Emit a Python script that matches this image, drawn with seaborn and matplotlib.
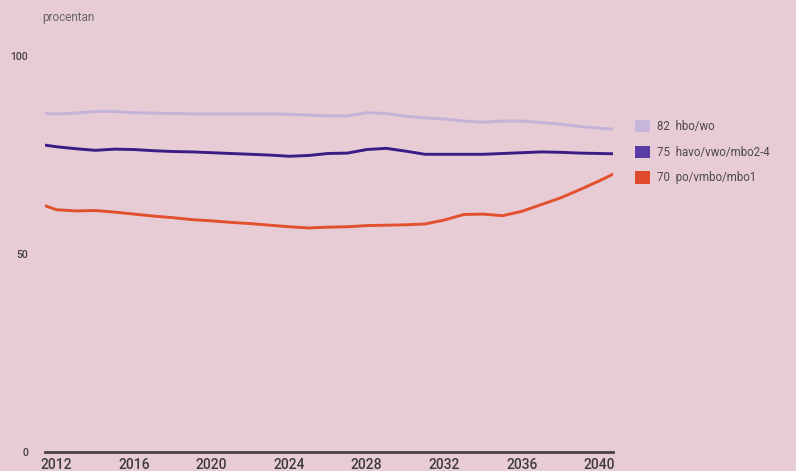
import numpy as np
import pandas as pd
import matplotlib
matplotlib.use("Agg")
import matplotlib.pyplot as plt
from matplotlib.patches import Patch
import seaborn as sns

years = list(range(2011, 2042))
hbo_wo = [85.5, 85.4, 85.6, 86.0, 86.0, 85.7, 85.6, 85.5, 85.4, 85.4, 85.4, 85.4,
          85.4, 85.3, 85.1, 84.9, 84.9, 85.7, 85.5, 84.8, 84.4, 84.1, 83.6, 83.3,
          83.6, 83.6, 83.2, 82.8, 82.2, 81.8, 81.4]
havo_vwo = [77.8, 77.1, 76.6, 76.2, 76.5, 76.4, 76.1, 75.9, 75.8, 75.6, 75.4, 75.2,
            75.0, 74.7, 74.9, 75.4, 75.5, 76.4, 76.7, 76.0, 75.2, 75.2, 75.2, 75.2,
            75.4, 75.6, 75.8, 75.7, 75.5, 75.4, 75.3]
po_vmbo = [62.9, 61.2, 60.9, 61.0, 60.6, 60.1, 59.6, 59.2, 58.7, 58.4, 58.0, 57.7,
           57.3, 56.9, 56.6, 56.8, 56.9, 57.2, 57.3, 57.4, 57.6, 58.6, 60.0, 60.1,
           59.7, 60.8, 62.5, 64.2, 66.3, 68.5, 70.9]
series_names = ["hbo/wo", "havo/vwo/mbo2-4", "po/vmbo/mbo1"]
legend_values = ["82", "75", "70"]
line_colors = ["#c4b3d8", "#3b1c85", "#e2502e"]
patch_colors = ["#c6b6da", "#5b3ba6", "#e04a2c"]
y_ticks = [0, 50, 100]
x_ticks = [2012, 2016, 2020, 2024, 2028, 2032, 2036, 2040]
y_label = "procentan"

df = pd.DataFrame({
    "jaar": years * 3,
    "waarde": hbo_wo + havo_vwo + po_vmbo,
    "groep": [series_names[0]] * len(years) + [series_names[1]] * len(years)
             + [series_names[2]] * len(years),
})

bg = "#e7ccd6"
sns.set_theme(style="white")
plt.rcParams["font.family"] = ["Roboto", "DejaVu Sans"]

fig = plt.figure(figsize=(7.96, 4.71), dpi=100, facecolor=bg)
ax = fig.add_axes([0.0565, 0.040, 0.7136, 0.841])
ax.set_facecolor(bg)

sns.lineplot(data=df, x="jaar", y="waarde", hue="groep", hue_order=series_names,
             palette=line_colors, linewidth=2.1, legend=False, ax=ax)

ax.set_xlim(2011.4, 2040.7)
ax.set_ylim(0, 100)
ax.set_xlabel("")
ax.set_ylabel("")
for s in ["top", "right", "left"]:
    ax.spines[s].set_visible(False)
ax.spines["bottom"].set_color("#4a4048")
ax.spines["bottom"].set_linewidth(2.0)

ax.set_yticks(y_ticks)
ax.set_yticklabels([str(v) for v in y_ticks], fontsize=7.5, color="#444044",
                   fontweight="medium")
ax.tick_params(axis="y", length=0, pad=12)
ax.set_xticks(x_ticks)
ax.set_xticklabels([str(v) for v in x_ticks], fontsize=10, color="#3e3a3e",
                   fontweight="medium")
ax.tick_params(axis="x", length=0, pad=4)

fig.text(0.053, 0.962, y_label, fontsize=8.5, color="#6a6468", ha="left", va="center")

handles = [Patch(facecolor=c, edgecolor="none") for c in patch_colors]
labels = [f"{v}  {n}" for v, n in zip(legend_values, series_names)]
leg = fig.legend(handles, labels, loc="upper left", bbox_to_anchor=(0.785, 0.768),
                 frameon=False, fontsize=8.3, handlelength=1.25, handleheight=1.25,
                 handletextpad=0.6, labelspacing=1.12, labelcolor="#4d474b")

fig.savefig("out.png", dpi=100, facecolor=bg)
